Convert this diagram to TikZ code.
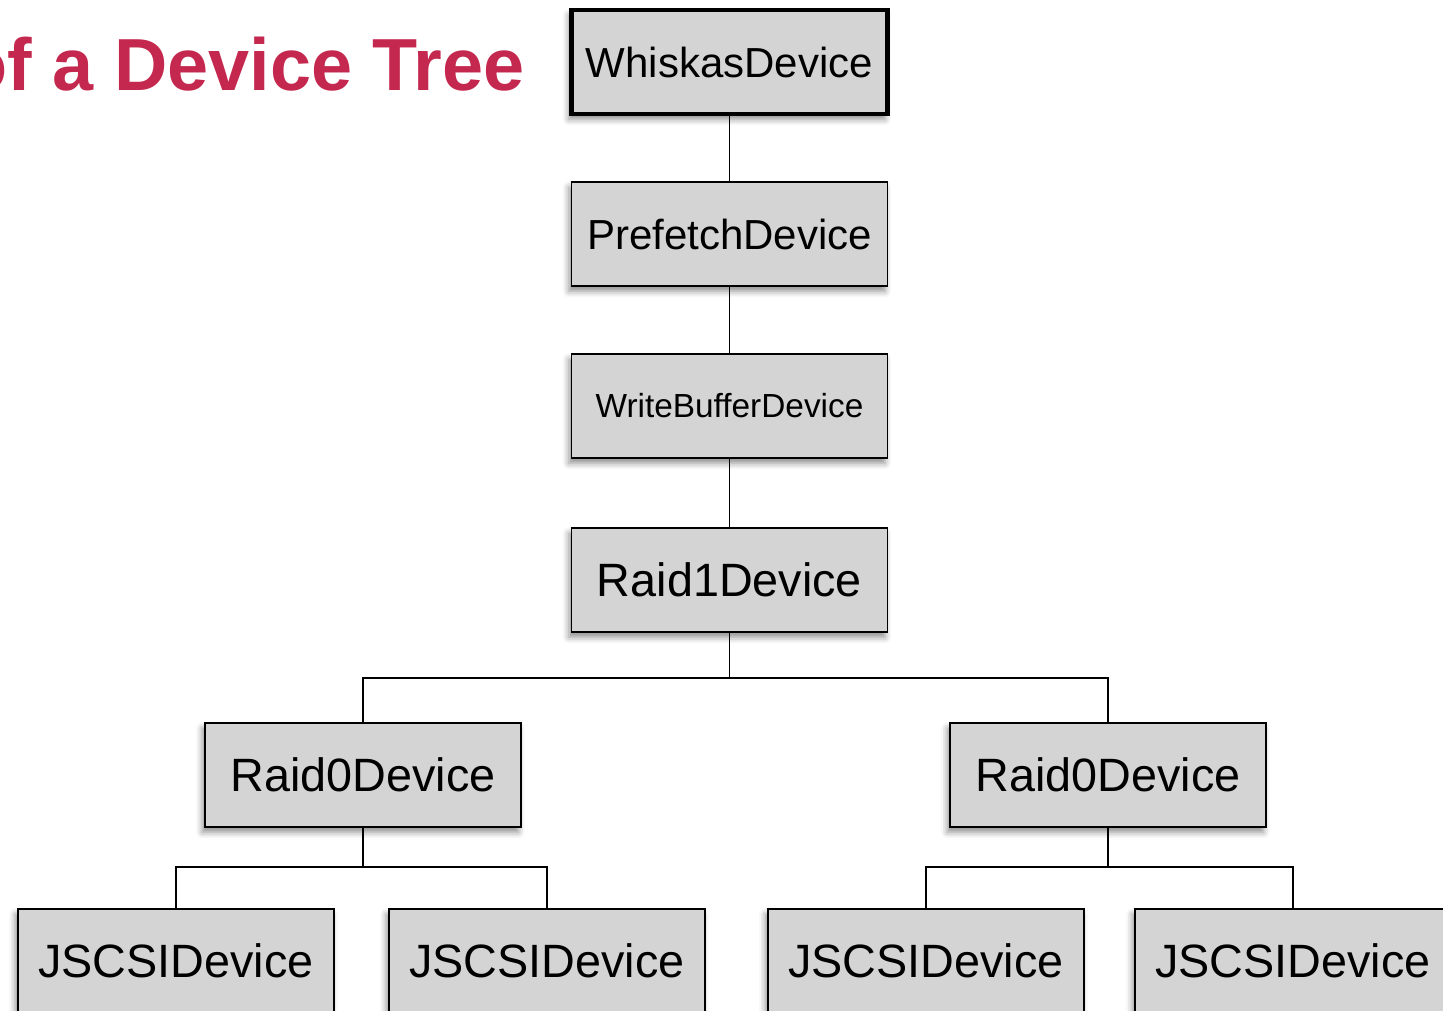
\documentclass[tikz,border=0pt]{standalone}
\usepackage{fontspec}
\setmainfont{Liberation Sans}
\usetikzlibrary{positioning,shadows.blur}

\definecolor{titlered}{RGB}{196,40,79}
\definecolor{boxgray}{RGB}{212,212,212}

\begin{document}
\begin{tikzpicture}[
    link/.style={line width=1pt},
    device/.style={draw, line width=0.9pt, fill=boxgray, minimum width=6.32cm,
                   minimum height=2.08cm, inner sep=0pt,
                   blur shadow={shadow xshift=-1.5pt, shadow yshift=-3pt,
                                shadow blur radius=3.5pt, shadow opacity=45},
                   font=\fontsize{23.9}{28}\selectfont},
    rootdev/.style={device, line width=2.3pt},
    big/.style={font=\fontsize{26.6}{31}\selectfont}
  ]
  \useasboundingbox (0,0) rectangle (28.86,-20.2);
  \clip (0,0) rectangle (28.86,-20.2);

  \node[anchor=base east, inner sep=0pt, text=titlered,
        font=\fontsize{42}{48}\selectfont\bfseries] (title) at (10.50,-1.80)
    {of a Device Tree};

  \node[rootdev] (whiskas) at (14.59,-1.24) {WhiskasDevice};
  \node[device] (prefetch) at (14.59,-4.68) {PrefetchDevice};
  \node[device, font=\fontsize{19}{23}\selectfont] (wbuffer) at (14.59,-8.12)
    {WriteBufferDevice};
  \node[device, big] (raid1) at (14.59,-11.6) {Raid1Device};

  \node[device, big] (raidl) at (7.26,-15.5) {Raid0Device};
  \node[device, big] (raidr) at (22.16,-15.5) {Raid0Device};

  \node[device, big] (jsa) at (3.52,-19.22) {JSCSIDevice};
  \node[device, big] (jsb) at (10.94,-19.22) {JSCSIDevice};
  \node[device, big] (jsc) at (18.52,-19.22) {JSCSIDevice};
  \node[device, big] (jsd) at (25.86,-19.22) {JSCSIDevice};

  \draw[link] (whiskas) -- (prefetch);
  \draw[link] (prefetch) -- (wbuffer);
  \draw[link] (wbuffer) -- (raid1);

  \coordinate (fork) at (14.59,-13.56);
  \draw[link] (raid1.south) -- (fork) -| (raidl.north);
  \draw[link] (fork) -| (raidr.north);

  \coordinate (forkl) at (7.26,-17.34);
  \draw[link] (raidl.south) -- (forkl) -| (jsa.north);
  \draw[link] (forkl) -| (jsb.north);

  \coordinate (forkr) at (22.16,-17.34);
  \draw[link] (raidr.south) -- (forkr) -| (jsc.north);
  \draw[link] (forkr) -| (jsd.north);
\end{tikzpicture}
\end{document}
